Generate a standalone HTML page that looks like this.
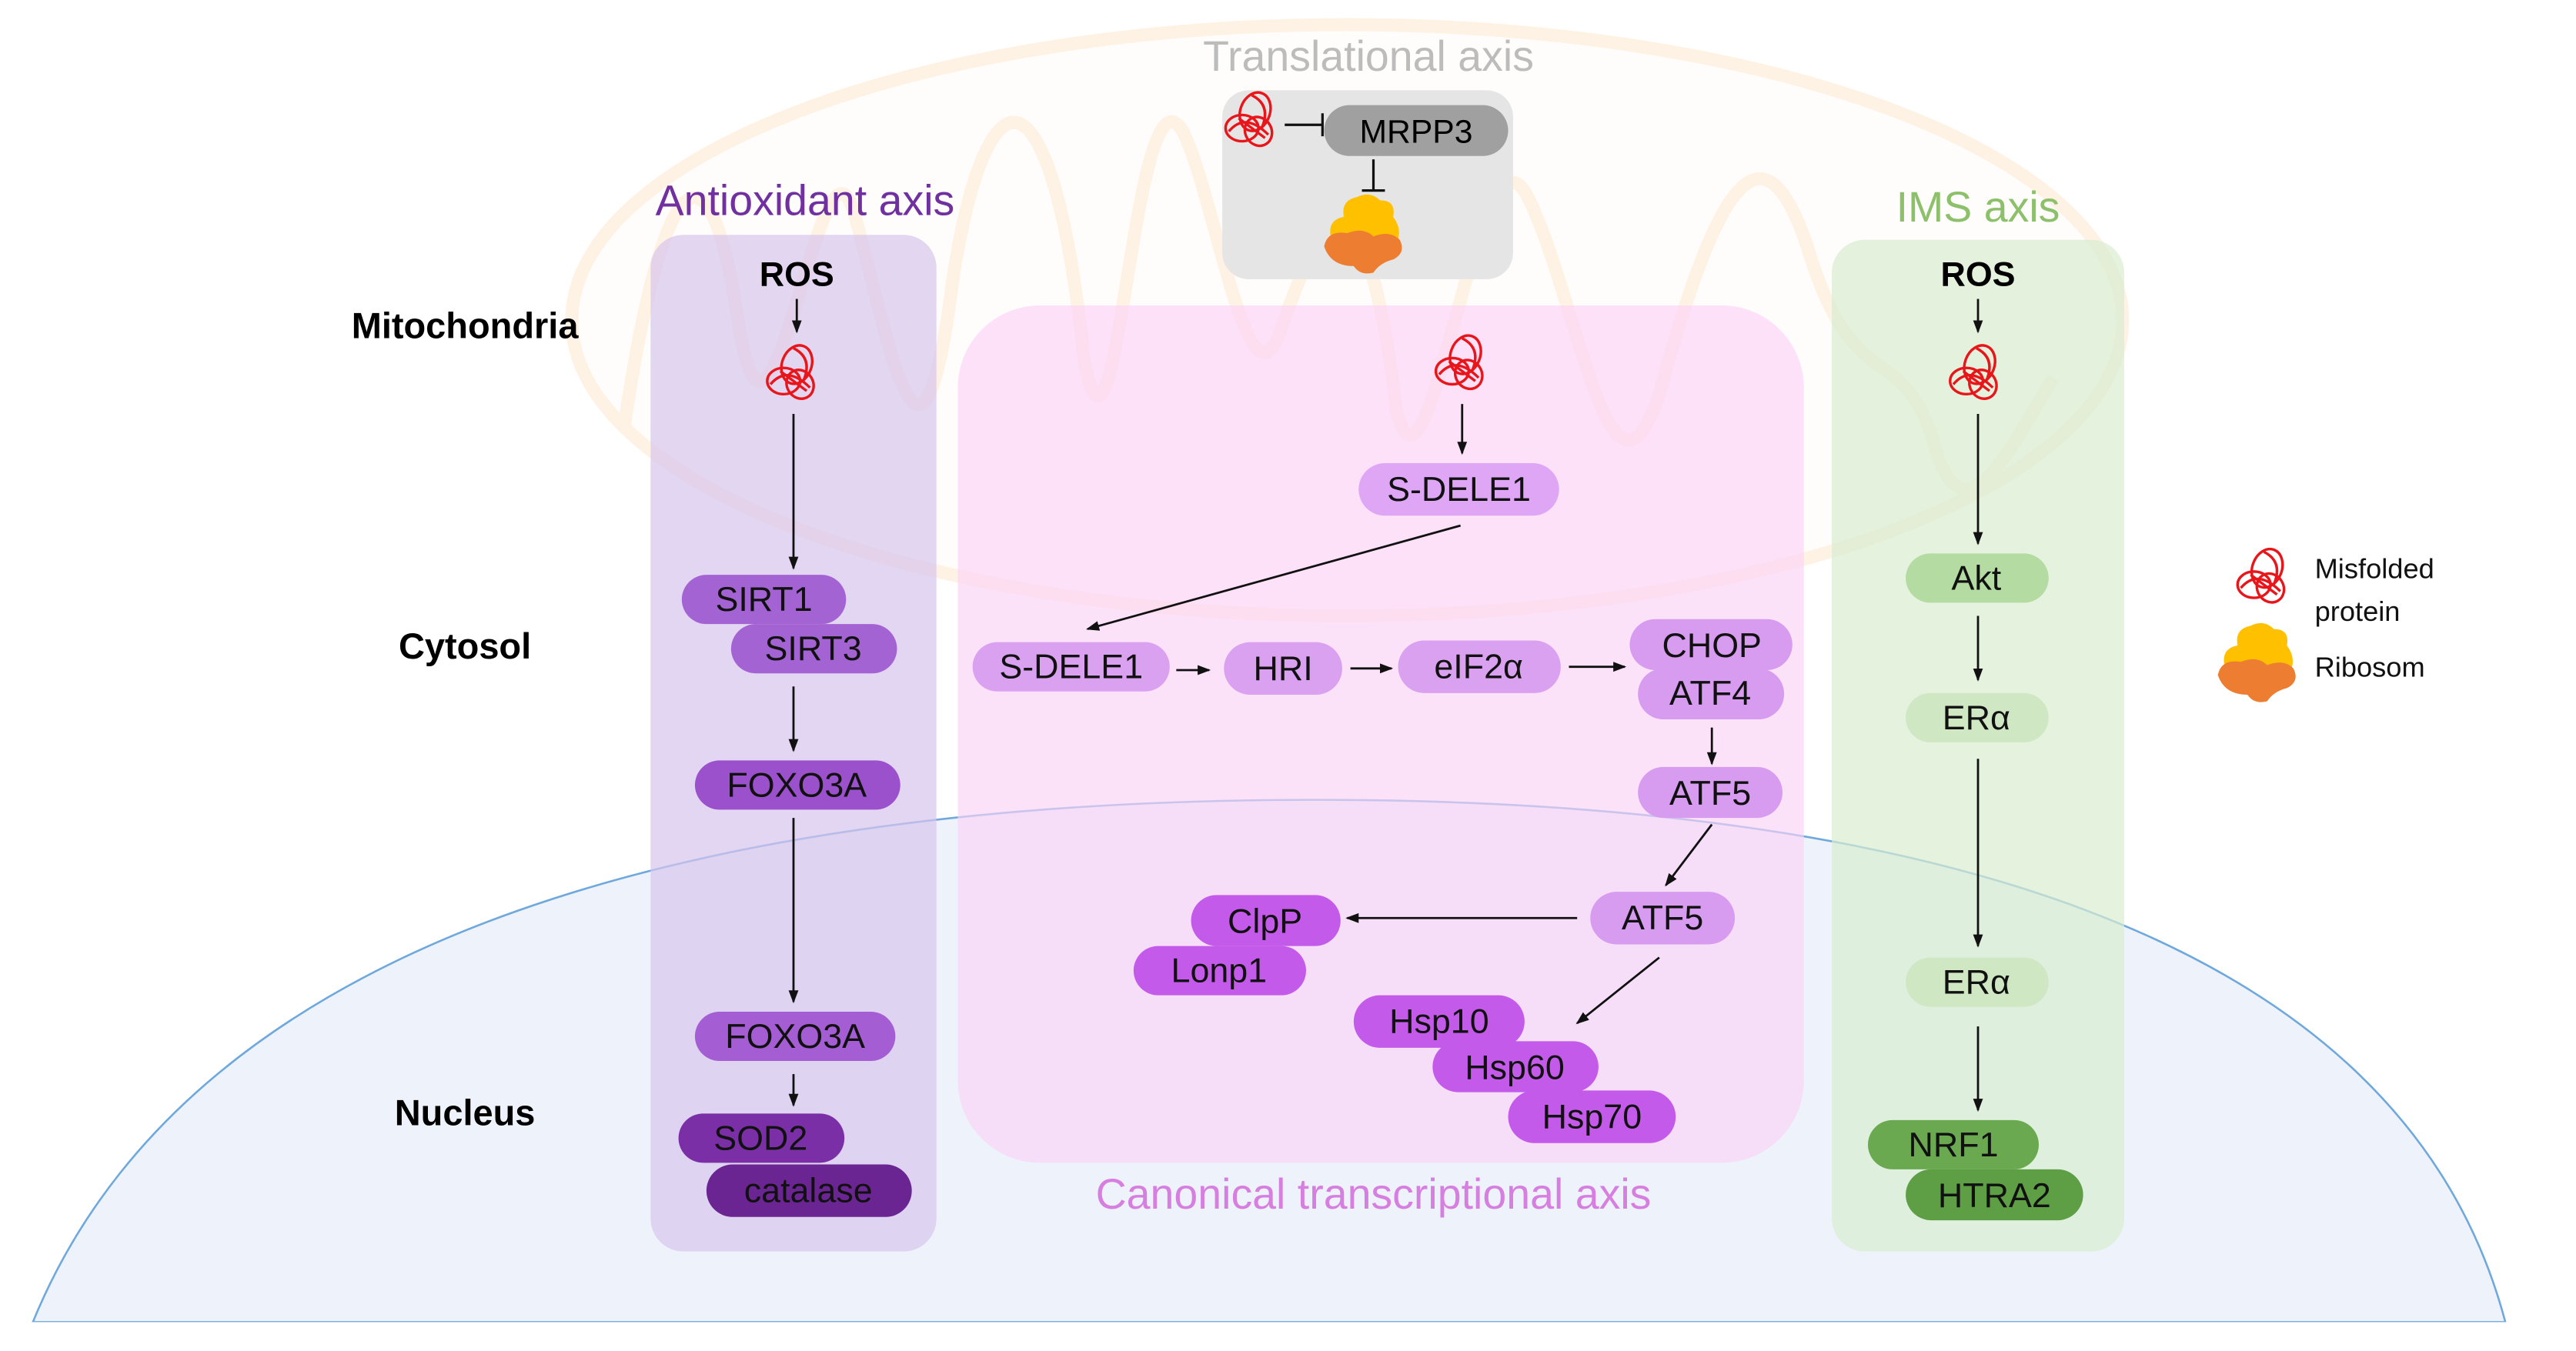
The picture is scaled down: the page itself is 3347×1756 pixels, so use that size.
<!DOCTYPE html>
<html><head><meta charset="utf-8">
<style>
html,body{margin:0;padding:0;background:#fff;}
svg{display:block;}
text{font-family:"Liberation Sans",sans-serif;}
</style></head>
<body>
<svg xmlns="http://www.w3.org/2000/svg" width="3347" height="1756" viewBox="0 0 1568 822.6" preserveAspectRatio="none">
<defs>
<marker id="ah" markerWidth="8" markerHeight="8" refX="7" refY="4" orient="auto" markerUnits="userSpaceOnUse">
<path d="M0,1 L8,4 L0,7 Z" fill="#111"/>
</marker>
<g id="prot" fill="none" stroke="#e8161b" stroke-width="1.6">
<ellipse cx="2" cy="-6" rx="9" ry="12" transform="rotate(20 2 -6)"/>
<ellipse cx="-6" cy="4" rx="10" ry="8"/>
<ellipse cx="4" cy="6" rx="8" ry="9" transform="rotate(-30 4 6)"/>
<path d="M-14,6 Q-4,-6 10,8 M-8,-2 L8,10 M0,-16 Q12,-10 6,4"/>
</g>
<g id="ribo">
<path d="M-20,2 Q-22,-8 -12,-10 Q-14,-20 -4,-22 Q4,-26 10,-20 Q20,-20 18,-10 Q24,-2 20,6 L-4,6 Z" fill="#ffc000"/>
<path d="M-24,8 Q-22,-2 -10,0 Q0,-4 6,2 Q16,-2 22,4 Q26,12 18,16 Q10,18 6,24 Q-2,26 -6,20 Q-20,20 -24,8 Z" fill="#ed7d31"/>
</g>
</defs>

<!-- Nucleus -->
<path d="M20,805 C120,560 450,487 800,487 C1150,487 1460,560 1525,805 Z" fill="#eef3fb" stroke="#6fa8dc" stroke-width="1.2"/>
<rect x="0" y="805" width="1568" height="20" fill="#fff"/>

<!-- Mitochondrion -->
<g opacity="0.3">
<ellipse cx="820" cy="195" rx="472" ry="180" fill="#fffaf2" stroke="#fcd7a8" stroke-width="8"/>
<path d="M380,260 C400,120 430,60 450,200 C470,320 500,60 520,130 C540,200 560,330 580,170 C600,40 640,30 660,220 C680,320 690,30 720,80 C740,120 760,260 780,200 C800,140 830,80 850,250 C870,330 900,60 930,120 C960,180 980,330 1010,240 C1040,130 1070,60 1100,150 C1130,250 1160,200 1180,280 C1200,330 1230,260 1250,230" fill="none" stroke="#fcd7a8" stroke-width="8"/>
</g>

<!-- Panels -->
<rect x="396" y="143" width="174" height="619" rx="20" fill="#d7c4ec" opacity="0.7"/>
<rect x="583" y="186" width="515" height="522" rx="50" fill="#fbd3f6" opacity="0.65"/>
<rect x="1115" y="146" width="178" height="616" rx="20" fill="#d8edd0" opacity="0.7"/>
<rect x="744" y="55" width="177" height="115" rx="16" fill="#e5e5e5"/>

<!-- Titles -->
<text x="833" y="43" font-size="26" fill="#bcbcbc" text-anchor="middle">Translational axis</text>
<text x="490" y="131" font-size="26" fill="#7030a0" text-anchor="middle">Antioxidant axis</text>
<text x="1204" y="135" font-size="26" fill="#8cc06a" text-anchor="middle">IMS axis</text>
<text x="836" y="736" font-size="26" fill="#d77fe0" text-anchor="middle">Canonical transcriptional axis</text>

<g font-size="22" font-weight="bold" fill="#000" text-anchor="middle">
<text x="283" y="206">Mitochondria</text>
<text x="283" y="401">Cytosol</text>
<text x="283" y="685">Nucleus</text>
<text x="485" y="174" font-size="21">ROS</text>
<text x="1204" y="174" font-size="21">ROS</text>
</g>

<!-- Translational -->
<rect x="806" y="64" width="112" height="31" rx="15.5" fill="#a0a0a0"/>
<text x="862" y="87" font-size="20" text-anchor="middle">MRPP3</text>
<use href="#prot" x="762" y="74"/>
<path d="M782,76 L805,76 M805,69 L805,83 M836,97 L836,116 M829,116 L843,116" stroke="#111" stroke-width="1.5"/>
<use href="#ribo" x="830" y="142"/>

<!-- Arrows -->
<use href="#prot" x="483" y="228"/>
<g stroke="#111" stroke-width="1.3" fill="none" marker-end="url(#ah)">
<line x1="485" y1="182" x2="485" y2="202"/>
<line x1="483" y1="252" x2="483" y2="346"/>
<line x1="483" y1="418" x2="483" y2="457"/>
<line x1="483" y1="498" x2="483" y2="610"/>
<line x1="483" y1="654" x2="483" y2="673"/>
<line x1="890" y1="246" x2="890" y2="276"/>
<line x1="889" y1="320" x2="662" y2="383"/>
<line x1="716" y1="408" x2="736" y2="408"/>
<line x1="822" y1="407" x2="847" y2="407"/>
<line x1="955" y1="406" x2="989" y2="406"/>
<line x1="1042" y1="443" x2="1042" y2="465"/>
<line x1="1042" y1="502" x2="1014" y2="539"/>
<line x1="960" y1="559" x2="820" y2="559"/>
<line x1="1010" y1="583" x2="960" y2="623"/>
<line x1="1204" y1="182" x2="1204" y2="202"/>
<line x1="1204" y1="252" x2="1204" y2="331"/>
<line x1="1204" y1="375" x2="1204" y2="414"/>
<line x1="1204" y1="462" x2="1204" y2="576"/>
<line x1="1204" y1="625" x2="1204" y2="676"/>
</g>

<g font-size="21" text-anchor="middle" fill="#111">
<rect x="415" y="350" width="100" height="30" rx="15" fill="#a463d3"/><text x="465" y="372">SIRT1</text>
<rect x="445" y="380" width="101" height="30" rx="15" fill="#a463d3"/><text x="495" y="402">SIRT3</text>
<rect x="423" y="463" width="125" height="30" rx="15" fill="#9b50cc"/><text x="485" y="485">FOXO3A</text>
<rect x="423" y="616" width="122" height="30" rx="15" fill="#a45dd3"/><text x="484" y="638">FOXO3A</text>
<rect x="413" y="678" width="101" height="30" rx="15" fill="#7b2fa6"/><text x="463" y="700">SOD2</text>
<rect x="430" y="709" width="125" height="32" rx="16" fill="#6b2592"/><text x="492" y="732">catalase</text>

<use href="#prot" x="890" y="222"/>
<rect x="827" y="282" width="122" height="32" rx="16" fill="#dea6f5"/><text x="888" y="305">S-DELE1</text>
<rect x="592" y="391" width="120" height="30" rx="15" fill="#dba1f1"/><text x="652" y="413">S-DELE1</text>
<rect x="745" y="391" width="72" height="32" rx="16" fill="#dba1f1"/><text x="781" y="414">HRI</text>
<rect x="851" y="390" width="99" height="32" rx="16" fill="#dba1f1"/><text x="900" y="413">eIF2α</text>
<rect x="992" y="377" width="99" height="31" rx="15.5" fill="#d79bf0"/><text x="1042" y="400">CHOP</text>
<rect x="997" y="407" width="89" height="31" rx="15.5" fill="#d79bf0"/><text x="1041" y="429">ATF4</text>
<rect x="997" y="467" width="88" height="31" rx="15.5" fill="#d79bf0"/><text x="1041" y="490">ATF5</text>
<rect x="968" y="543" width="88" height="32" rx="16" fill="#d79bf0"/><text x="1012" y="566">ATF5</text>
<rect x="725" y="545" width="91" height="31" rx="15.5" fill="#c45ae9"/><text x="770" y="568">ClpP</text>
<rect x="690" y="576" width="105" height="30" rx="15" fill="#c45ae9"/><text x="742" y="598">Lonp1</text>
<rect x="824" y="606" width="104" height="32" rx="16" fill="#c45ae9"/><text x="876" y="629">Hsp10</text>
<rect x="872" y="634" width="101" height="31" rx="15.5" fill="#c45ae9"/><text x="922" y="657">Hsp60</text>
<rect x="918" y="664" width="102" height="32" rx="16" fill="#c45ae9"/><text x="969" y="687">Hsp70</text>

<use href="#prot" x="1203" y="228"/>
<rect x="1160" y="337" width="87" height="30" rx="15" fill="#b4dca2"/><text x="1203" y="359">Akt</text>
<rect x="1160" y="422" width="87" height="30" rx="15" fill="#cfe8c3"/><text x="1203" y="444">ERα</text>
<rect x="1160" y="583" width="87" height="30" rx="15" fill="#cfe8c3"/><text x="1203" y="605">ERα</text>
<rect x="1137" y="682" width="104" height="30" rx="15" fill="#6aa94f"/><text x="1189" y="704">NRF1</text>
<rect x="1160" y="712" width="108" height="31" rx="15.5" fill="#5e9f45"/><text x="1214" y="735">HTRA2</text>
</g>

<!-- Legend -->
<use href="#prot" x="1378" y="352"/>
<use href="#ribo" x="1374" y="403"/>
<g font-size="17" fill="#111">
<text x="1409" y="352">Misfolded</text>
<text x="1409" y="378">protein</text>
<text x="1409" y="412">Ribosom</text>
</g>
</svg>
</body></html>
